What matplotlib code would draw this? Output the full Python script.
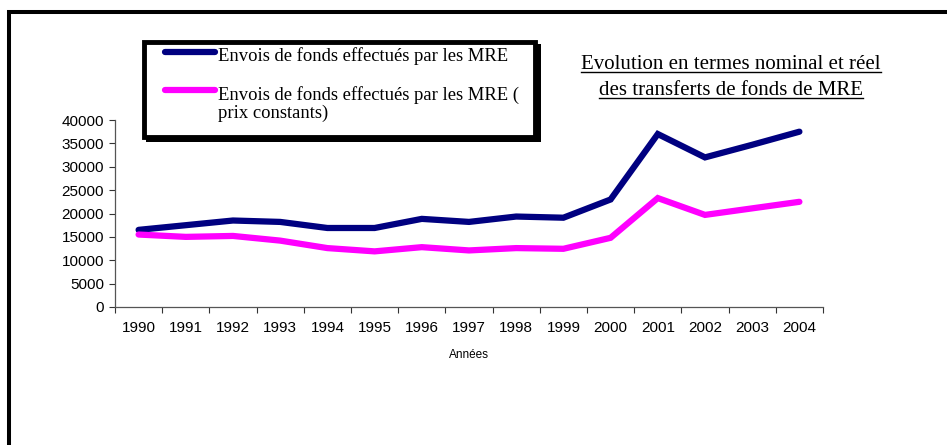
import matplotlib
matplotlib.use("Agg")
import matplotlib.pyplot as plt
from matplotlib.lines import Line2D
from matplotlib.patches import Rectangle

years = ["1990", "1991", "1992", "1993", "1994", "1995", "1996", "1997",
         "1998", "1999", "2000", "2001", "2002", "2003", "2004"]
nominal = [16500, 17500, 18500, 18200, 16900, 16900, 18850, 18200,
           19350, 19100, 23000, 37000, 32000, 34700, 37500]
real = [15500, 15000, 15200, 14200, 12600, 11900, 12800, 12100,
        12600, 12450, 14800, 23300, 19700, 21100, 22500]

label_nom = "Envois de fonds effectués par les MRE"
label_real = "Envois de fonds effectués par les MRE (\nprix constants)"
title_lines = ["Evolution en termes nominal et réel",
               "des transferts de fonds de MRE"]

NAVY, MAGENTA = "#000080", "#FF00FF"
W, H = 947, 445
SERIF = "Liberation Serif"
SANS = "Liberation Sans"


def fx(px):
    return px / W


def fy(py):
    return 1 - py / H


fig = plt.figure(figsize=(W / 100, H / 100), dpi=100)
ax = fig.add_axes([fx(115), fy(307), fx(823) - fx(115), fy(120) - fy(307)])

x = range(len(years))
ax.plot(x, nominal, color=NAVY, lw=4.5, solid_capstyle="round",
        solid_joinstyle="miter")
ax.plot(x, real, color=MAGENTA, lw=4.5, solid_capstyle="round",
        solid_joinstyle="miter")

ax.set_xlim(-0.5, len(years) - 0.5)
ax.set_ylim(0, 40000)
ax.set_yticks(range(0, 40001, 5000))
ax.set_yticklabels([str(v) for v in range(0, 40001, 5000)],
                   fontsize=11, family=SANS)
ax.set_xticks(list(x))
ax.set_xticklabels(years, fontsize=11, family=SANS)
ax.set_xticks([i - 0.5 for i in range(len(years) + 1)], minor=True)
ax.tick_params(axis="x", which="major", length=0, pad=10)
ax.tick_params(axis="x", which="minor", length=4, width=0.8, color="#333333")
ax.tick_params(axis="y", length=4, width=0.8, color="#333333", pad=4)
for side in ("top", "right"):
    ax.spines[side].set_visible(False)
for side in ("left", "bottom"):
    ax.spines[side].set_color("#555555")
    ax.spines[side].set_linewidth(0.9)
ax.set_xlabel("Années", fontsize=8.5, family=SANS, labelpad=10)

# outer frame (only top and left edges fall inside the picture)
fig.patches.append(Rectangle((fx(8.8), -0.2), 1.2, fy(12) + 0.2,
                             transform=fig.transFigure, fill=False,
                             lw=2.9, edgecolor="black"))

# legend box with shadow
fig.patches.append(Rectangle((fx(146), fy(142)), fx(541) - fx(146),
                             fy(44) - fy(142), transform=fig.transFigure,
                             facecolor="black", edgecolor="none"))
fig.patches.append(Rectangle((fx(144), fy(137)), fx(535) - fx(144),
                             fy(42) - fy(137), transform=fig.transFigure,
                             facecolor="white", edgecolor="black", lw=3.5))
for color, py, base, label in [(NAVY, 52, 61, label_nom),
                               (MAGENTA, 90, 100, label_real)]:
    fig.lines.append(Line2D([fx(165), fx(215)], [fy(py), fy(py)],
                            transform=fig.transFigure, color=color, lw=4.5,
                            solid_capstyle="round"))
    # one text per line so the first line sits level with the swatch
    for i, part in enumerate(label.split("\n")):
        fig.text(fx(218), fy(base + 18 * i), part, family=SERIF,
                 fontsize=13.4, va="baseline", ha="left")

# underlined title
title_texts = []
for base, line in zip([69, 95], title_lines):
    title_texts.append(fig.text(fx(731), fy(base), line, family=SERIF,
                                fontsize=15, ha="center", va="baseline"))
fig.canvas.draw()
renderer = fig.canvas.get_renderer()
for t, uline in zip(title_texts, [72, 98]):
    bb = t.get_window_extent(renderer).transformed(fig.transFigure.inverted())
    fig.lines.append(Line2D([bb.x0, bb.x1], [fy(uline), fy(uline)],
                            transform=fig.transFigure, color="black", lw=1.0))

fig.savefig("out.png", dpi=100)
